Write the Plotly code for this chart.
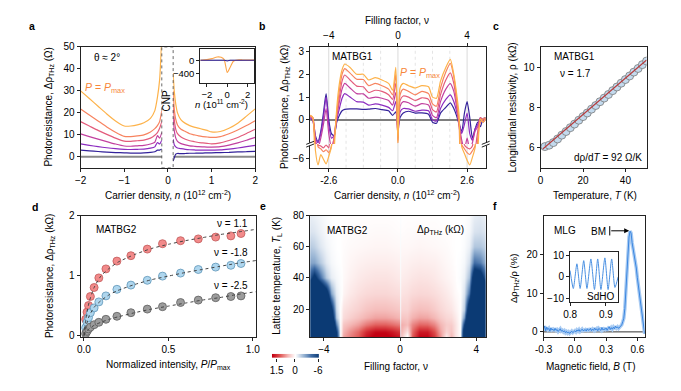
import plotly.graph_objects as go

W, H = 681, 391
FONT = "Liberation Sans, Arial, sans-serif"


def PX(p):
    return p / W


def PY(p):
    return 1 - p / H


# ---------------- panel a data ----------------
a_n_left = [-2.0, -1.8, -1.6, -1.4, -1.2, -1.0, -0.85, -0.7, -0.55, -0.4, -0.3, -0.24, -0.19, -0.14]
a_n_right = [0.12, 0.145, 0.18, 0.22, 0.3, 0.4, 0.5, 0.6, 0.7, 0.8, 0.9, 1.0, 1.2, 1.4, 1.6, 1.8, 2.0]
a_left = [
    [30, 26.5, 23, 19.5, 16.3, 14, 14, 14.5, 15.5, 17.5, 21, 27, 35, 55],
    [21.7, 19, 16.3, 13.6, 11.2, 9.3, 9.2, 9.5, 10, 11.3, 12.8, 14.2, 16, 21],
    [16, 14, 12, 10.2, 8.5, 7.1, 7.0, 7.3, 7.6, 8.5, 9.8, 11, 13, 16],
    [10.4, 9.2, 8, 6.9, 5.8, 4.9, 4.8, 5.0, 5.2, 5.8, 6.6, 9.6, 8.5, 11],
    [5.9, 5.2, 4.6, 4.1, 3.7, 3.4, 3.3, 3.4, 3.5, 3.9, 4.5, 6.5, 5.8, 7.5],
    [3.0, 2.7, 2.4, 2.1, 1.9, 1.8, 1.7, 1.7, 1.8, 2.0, 2.3, 3.0, 3.0, 3.5],
]
a_right = [
    [38, 30, 24, 20, 16.8, 15.2, 14.2, 13.5, 13, 12.5, 12, 11.3, 11.5, 13, 15.3, 18.5, 21.8],
    [30, 22, 17, 14.5, 12.5, 11.5, 10.5, 10, 9.5, 9.2, 9, 8.8, 9.2, 10.5, 12.2, 14.2, 16.4],
    [24, 17, 12.5, 10.5, 9, 8, 7.3, 6.9, 6.5, 6.3, 6.1, 5.9, 6.3, 7.4, 8.8, 10.6, 12.5],
    [18, 12, 8.5, 7, 6, 5.4, 5, 4.8, 4.6, 4.5, 4.4, 4.4, 4.6, 5.3, 6.3, 7.5, 8.8],
    [8, 5.5, 4.5, 4, 3.7, 3.4, 3.2, 3.1, 3.0, 3.0, 3.0, 3.0, 3.1, 3.5, 4.0, 4.6, 5.2],
    [-2, -0.5, 1.2, 1.5, 1.4, 1.5, 1.6, 1.6, 1.7, 1.7, 1.8, 1.8, 1.9, 2.0, 2.2, 2.3, 2.5],
]
a_inset_n = [-2.65, -2, -1.5, -1, -0.6, -0.3, 0, 0.3, 0.6, 1.0, 1.5, 2, 2.65]
a_inset_orange = [0, 20, 50, 100, 90, 20, -370, -200, -30, 10, 10, 5, 5]
a_inset_blue = [0, 0, 0, 0, 0, 0, -20, 0, 0, 0, 0, 0, 0]

curve_colors = ['#FDB24A', '#F7835F', '#E35C7C', '#C2409F', '#8C2CC0', '#33229A']

# ---------------- panel b data ----------------
b_n = [-3.3, -3.2, -3.1, -3.0, -2.9, -2.8, -2.7, -2.6, -2.5, -2.4, -2.3, -2.2, -2.1, -2.0,
       -1.8, -1.55, -1.3, -1.1, -0.85, -0.6, -0.35, -0.2, -0.08,
       0.0,
       0.08, 0.2, 0.4, 0.65, 0.9, 1.15, 1.3, 1.45, 1.6, 1.8, 1.97,
       2.1, 2.2, 2.3, 2.4, 2.5, 2.6, 2.7, 2.8, 2.9, 3.0, 3.1, 3.2, 3.3]
b_curves = [
    [0.2, 0.1, -5.2, -6.7, -5.6, -6.1, -6.6, -5.8, -4.8, -1.5, 0.5, 1.6, 2.2, 2.45,
     2.3, 2.0, 2.0, 1.75, 1.85, 1.75, 1.6, 1.3, 2.3,
     -1.0,
     1.4, 1.6, 1.5, 1.4, 1.5, 1.45, 1.0, 0.95, 1.7, 2.3, 2.65,
     2.0, 1.2, 0.2, -4.8, -5.5, -6.2, -6.7, -5.9, -4.9, -1.5, 0.05, -0.1, 0.05],
    [0.2, 0.1, -1.5, -4.8, -5.0, -5.3, -5.1, -5.4, -4.7, -1.0, 0.3, 1.3, 2.0, 2.25,
     2.05, 1.78, 1.77, 1.5, 1.6, 1.5, 1.35, 1.1, 2.0,
     -1.0,
     1.1, 1.35, 1.25, 1.1, 1.25, 1.15, 0.7, 0.6, 1.4, 2.1, 2.48,
     1.9, 1.0, -0.2, -4.6, -5.0, -5.4, -5.6, -5.2, -4.7, -0.8, -0.1, 0.05, 0.1],
    [0.15, 0.1, -1.0, -4.6, -4.7, -4.9, -4.6, -4.9, -1.5, -0.8, 0.2, 1.0, 1.7, 1.97,
     1.75, 1.48, 1.45, 1.2, 1.3, 1.25, 1.1, 0.9, 1.6,
     -0.9,
     0.85, 1.05, 1.0, 0.85, 0.97, 0.9, 0.45, 0.35, 1.1, 1.75, 2.06,
     1.6, 0.8, -0.3, -1.2, -4.6, -4.9, -5.0, -4.7, -1.5, -0.5, 0.1, 0.0, 0.05],
    [0.15, 0.0, -0.9, -1.2, -0.8, -0.2, 0.5, -0.6, -1.2, -0.8, 0.1, 0.8, 1.35, 1.6,
     1.4, 1.15, 1.14, 0.95, 1.0, 0.95, 0.85, 0.65, 1.2,
     -0.8,
     0.6, 0.8, 0.75, 0.6, 0.71, 0.65, 0.2, 0.1, 0.8, 1.35, 1.59,
     1.25, 0.6, -0.2, -0.9, -1.3, -0.8, -1.3, -1.0, -0.5, -0.3, 0.05, -0.1, 0.05],
    [0.1, 0.0, -0.8, -1.0, -0.6, 0.1, 1.0, -0.2, -0.8, -0.7, 0.0, 0.5, 0.95, 1.15,
     1.0, 0.8, 0.78, 0.65, 0.7, 0.65, 0.55, 0.4, 0.8,
     -0.6,
     0.35, 0.5, 0.48, 0.38, 0.43, 0.4, 0.0, -0.05, 0.5, 0.9, 1.1,
     0.8, 0.4, -0.1, -0.6, -0.2, 0.3, -0.6, -0.9, -0.4, -0.2, 0.1, -0.05, 0.05],
    [0.05, 0.0, -0.7, -0.95, -0.5, 0.3, 1.15, 0.0, -0.6, -0.7, -0.1, 0.2, 0.4, 0.46,
     0.48, 0.48, 0.46, 0.47, 0.5, 0.45, 0.4, 0.2, 0.35,
     -0.35,
     0.1, 0.3, 0.38, 0.3, 0.31, 0.25, -0.1, -0.15, 0.3, 0.55, 0.75,
     0.5, 0.2, -0.2, -0.5, 0.3, 0.8, 0.1, -0.8, -0.4, -0.1, -0.3, 0.05, 0.1],
]
b_nu_per_n = 4 / 2.6
b_nu_lines = [-4, -3, -2, -1, 0, 1, 2, 3, 4]

# ---------------- panel c data ----------------
c_T = [2, 4, 6, 8, 10, 12, 14, 16, 18, 20, 22, 24, 26, 28, 30, 32, 34, 36, 38, 40, 42, 44, 46, 48, 50]
c_rho = [6.05, 6.12, 6.25, 6.43, 6.62, 6.80, 6.99, 7.17, 7.36, 7.54, 7.72, 7.91, 8.09,
         8.28, 8.46, 8.64, 8.83, 9.01, 9.20, 9.38, 9.56, 9.75, 9.93, 10.12, 10.30]
c_fit_T = [1, 50]
c_fit_rho = [5.93, 10.35]

# ---------------- panel d data ----------------
d_P = [0.01, 0.018, 0.027, 0.038, 0.06, 0.088, 0.13, 0.195, 0.278, 0.375, 0.465, 0.572, 0.677, 0.78, 0.87, 0.93]
d_red = [0.27, 0.39, 0.50, 0.65, 0.80, 0.96, 1.11, 1.24, 1.33, 1.44, 1.53, 1.58, 1.61, 1.64, 1.66, 1.70]
d_blue = [0.13, 0.22, 0.30, 0.38, 0.46, 0.56, 0.66, 0.77, 0.84, 0.92, 0.99, 1.04, 1.10, 1.14, 1.17, 1.20]
d_gray = [0.03, 0.07, 0.11, 0.14, 0.18, 0.22, 0.27, 0.32, 0.38, 0.44, 0.48, 0.55, 0.59, 0.63, 0.65, 0.66]
d_fit_P = [0.0, 0.01, 0.03, 0.06, 0.1, 0.15, 0.2, 0.3, 0.4, 0.5, 0.6, 0.7, 0.8, 0.9, 1.02]
d_red_fit = [0.0, 0.26, 0.55, 0.80, 0.99, 1.12, 1.22, 1.35, 1.45, 1.52, 1.58, 1.63, 1.68, 1.72, 1.77]
d_blue_fit = [0.0, 0.13, 0.32, 0.47, 0.58, 0.68, 0.75, 0.85, 0.93, 0.99, 1.05, 1.10, 1.15, 1.20, 1.25]
d_gray_fit = [0.0, 0.05, 0.11, 0.17, 0.22, 0.27, 0.31, 0.38, 0.44, 0.49, 0.54, 0.59, 0.63, 0.68, 0.73]

# ---------------- panel e data ----------------
e_nu = [-4.72, -4.5, -4.2, -3.9, -3.6, -3.35, -3.15, -3.0, -2.6, -2.2, -1.8, -1.3, -0.8, -0.4, -0.07,
        0.0, 0.07, 0.35, 0.65, 1.0, 1.4, 1.8, 2.1, 2.4, 2.7, 2.9, 3.15, 3.35, 3.6, 3.9, 4.2, 4.49]
e_T = [2, 6, 10, 15, 20, 30, 40, 50, 60, 70, 80]
e_z = [
    [-12, -12, -12, -12, -12, -7, 0.0, 0.6, 0.8, 1.0, 1.4, 1.6, 1.6, 1.5, 1.4, -0.6, 0.4, -0.1, 1.0, 1.5, 1.5, 1.2, 0.7, 0.1, 0.5, 0.2, 0.0, -10, -12, -12, -12, -12],
    [-12, -12, -12, -12, -12, -6, 0.0, 0.5, 0.7, 0.9, 1.25, 1.45, 1.45, 1.35, 1.2, -0.5, 0.5, 0.2, 0.9, 1.35, 1.35, 1.05, 0.6, 0.3, 0.4, 0.2, 0.0, -9, -12, -12, -12, -12],
    [-12, -12, -12, -12, -12, -3.5, 0.0, 0.4, 0.5, 0.62, 0.82, 0.95, 0.95, 0.88, 0.8, -0.4, 0.55, 0.45, 0.75, 0.92, 0.9, 0.75, 0.5, 0.35, 0.35, 0.2, 0.0, -6, -12, -12, -12, -12],
    [-12, -12, -12, -12, -9, -1.5, 0.0, 0.25, 0.33, 0.42, 0.52, 0.6, 0.6, 0.56, 0.5, -0.3, 0.4, 0.38, 0.52, 0.6, 0.58, 0.48, 0.36, 0.28, 0.25, 0.15, 0.0, -3, -12, -12, -12, -12],
    [-12, -12, -12, -12, -7, -1.0, 0.0, 0.2, 0.26, 0.32, 0.4, 0.45, 0.45, 0.42, 0.38, -0.2, 0.3, 0.3, 0.4, 0.45, 0.43, 0.36, 0.28, 0.22, 0.18, 0.1, 0.0, -1.5, -9, -12, -12, -12],
    [-12, -12, -11, -8, -2.5, -0.5, -0.1, 0.08, 0.16, 0.22, 0.26, 0.28, 0.28, 0.26, 0.24, -0.15, 0.2, 0.22, 0.26, 0.28, 0.27, 0.24, 0.2, 0.15, 0.1, 0.04, 0.0, -0.8, -4, -12, -12, -9],
    [-5, -7, -4, -1.5, -0.5, -0.2, -0.05, 0.04, 0.1, 0.15, 0.18, 0.2, 0.2, 0.18, 0.15, -0.1, 0.13, 0.15, 0.18, 0.2, 0.19, 0.16, 0.12, 0.08, 0.05, 0.02, -0.1, -0.4, -1.8, -9, -8, -4],
    [-2.5, -2.5, -1.5, -0.6, -0.2, -0.05, 0.0, 0.03, 0.07, 0.1, 0.12, 0.13, 0.13, 0.12, 0.1, -0.1, 0.09, 0.1, 0.12, 0.13, 0.12, 0.11, 0.08, 0.05, 0.03, 0.0, -0.05, -0.2, -0.9, -4, -3.5, -2],
    [-1.5, -1.3, -0.7, -0.3, -0.1, 0.0, 0.0, 0.02, 0.04, 0.05, 0.06, 0.07, 0.07, 0.06, 0.05, -0.1, 0.05, 0.05, 0.06, 0.07, 0.06, 0.05, 0.04, 0.03, 0.01, 0.0, 0.0, -0.1, -0.4, -1.6, -1.6, -1.2],
    [-0.8, -0.7, -0.4, -0.15, -0.05, 0.0, 0.0, 0.01, 0.02, 0.03, 0.03, 0.04, 0.04, 0.03, 0.02, -0.1, 0.02, 0.03, 0.03, 0.04, 0.03, 0.03, 0.02, 0.01, 0.01, 0.0, 0.0, -0.05, -0.2, -0.8, -0.9, -0.7],
    [-0.5, -0.4, -0.25, -0.1, 0.0, 0.0, 0.0, 0.0, 0.01, 0.01, 0.01, 0.01, 0.01, 0.01, 0.0, -0.05, 0.0, 0.01, 0.01, 0.01, 0.01, 0.01, 0.0, 0.0, 0.0, 0.0, 0.0, 0.0, -0.1, -0.5, -0.6, -0.4],
]
e_cbar_ticks = ['1.5', '0', '-6']
e_cbar_vals = [1.5, 0, -6]

# ---------------- panel f data ----------------
f_B = [round(-0.30 + 0.01 * i, 2) for i in range(98)]
f_y = [0.8, 1.5, 0.3, 1.2, 0.6, 0.9, 0.2, 1.0, 0.5, 0.7,
       0.3, 0.9, 0.4, 0.6, 0.1, 0.5, 0.8, 0.2, 0.4, 0.0,
       0.3, -0.2, 0.1, -0.3, 0.0, -0.4, -0.1, 0.2, -0.2, 0.1,
       0.3, 0.0, 0.5, 0.2, 0.6, 0.1, 0.4, 0.7, 0.3, 0.5,
       0.6, 0.2, 0.8, 0.4, 0.5, 0.9, 0.3, 0.7, 0.4, 1.0,
       0.5, 0.8, 0.3, 0.9, 0.6, 0.4, 1.1, 0.5, 0.8, 0.6,
       1.0, 0.4, 0.9, 1.3, 0.6, 1.1, 0.7, 1.2, 0.8, 1.5,
       1.0, 1.3, 0.9, 1.2, 1.4, 1.8, 2.6, 3.5, 6.0, 11.0,
       17.0, 21.5, 24.5, 26.0, 25.5, 23.0, 21.5, 20.0, 18.0, 16.5,
       14.0, 12.0, 10.3, 8.0, 6.0, 3.5, 1.5, -0.5]
f_osc_B = [0.800, 0.809, 0.819, 0.828, 0.838, 0.847, 0.858, 0.868, 0.877, 0.886, 0.897, 0.906, 0.916, 0.925, 0.934]
f_osc_y = [3, -5.5, 6.2, -5.5, 7.7, -5.5, 8.5, -6, 8.5, -6, 9, -6, 8.5, -5, 0]

assert all(len(r) == len(a_n_left) for r in a_left)
assert all(len(r) == len(a_n_right) for r in a_right)
assert all(len(r) == len(b_n) for r in b_curves)
assert len(c_T) == len(c_rho)
assert all(len(r) == len(e_nu) for r in e_z) and len(e_z) == len(e_T)
assert len(f_B) == len(f_y)

CS = [[0.0, '#0B3A74'], [0.2667, '#3F6CA5'], [0.5333, '#9DB8D6'], [0.70, '#DCE5F0'],
      [0.80, '#FFFFFF'], [0.8267, '#FBE3E2'], [0.8667, '#F4B6B4'], [0.9333, '#E05654'], [1.0, '#C20012']]

fig = go.Figure()


def line_tr(x, y, xa, ya, color, width=1.2, shape='spline', dash=None):
    return go.Scatter(x=x, y=y, xaxis=xa, yaxis=ya, mode='lines',
                      line=dict(color=color, width=width, shape=shape, dash=dash,
                                smoothing=0.6 if shape == 'spline' else None),
                      showlegend=False, hoverinfo='skip')


# panel a
for k in range(5, -1, -1):
    fig.add_trace(line_tr(a_n_left + [None] + a_n_right, a_left[k] + [None] + a_right[k],
                          'x', 'y', curve_colors[k]))
fig.add_trace(line_tr(a_inset_n, a_inset_orange, 'x2', 'y2', '#FDA64A', 1.1))
fig.add_trace(line_tr(a_inset_n, a_inset_blue, 'x2', 'y2', '#33229A', 1.1))

# panel b
for k in range(5, -1, -1):
    fig.add_trace(line_tr(b_n, b_curves[k], 'x3', 'y3', curve_colors[k]))
    fig.add_trace(line_tr(b_n, b_curves[k], 'x3', 'y4', curve_colors[k]))
fig.add_trace(go.Scatter(x=[0], y=[0], xaxis='x4', yaxis='y3', mode='markers',
                         marker=dict(opacity=0), showlegend=False, hoverinfo='skip'))

# panel c
fig.add_trace(go.Scatter(x=c_T, y=c_rho, xaxis='x5', yaxis='y5', mode='markers',
                         marker=dict(size=8, color='#C3DAEE', line=dict(color='#7A7A7A', width=0.8)),
                         showlegend=False, hoverinfo='skip'))
fig.add_trace(line_tr(c_fit_T, c_fit_rho, 'x5', 'y5', '#B83A3A', 1.1, 'linear'))

# panel d
for ys, fill, edge in [(d_red, '#F28A8A', '#C25A5A'), (d_blue, '#AED6EE', '#5F95B8'), (d_gray, '#9C9C9C', '#606060')]:
    fig.add_trace(go.Scatter(x=d_P, y=ys, xaxis='x6', yaxis='y6', mode='markers',
                             marker=dict(size=8, color=fill, line=dict(color=edge, width=0.8)),
                             showlegend=False, hoverinfo='skip'))
for ys in [d_red_fit, d_blue_fit, d_gray_fit]:
    fig.add_trace(line_tr(d_fit_P, ys, 'x6', 'y6', '#444444', 1.0, 'spline', 'dot'))

# panel e
fig.add_trace(go.Heatmap(x=e_nu, y=e_T, z=e_z, xaxis='x7', yaxis='y7', colorscale=CS,
                         zmin=-6, zmax=1.5, zsmooth='best', showscale=False, hoverinfo='skip'))
fig.add_trace(go.Heatmap(x=[0, 0.49, 1], y=[0, 1], z=[e_cbar_vals, e_cbar_vals], xaxis='x8', yaxis='y8',
                         colorscale=CS, zmin=-6, zmax=1.5, zsmooth='best', showscale=False,
                         hoverinfo='skip'))

# panel f
fig.add_trace(line_tr(f_B, f_y, 'x9', 'y9', '#A9CBF2', 3.5, 'linear'))
fig.add_trace(line_tr(f_B, f_y, 'x9', 'y9', '#3A86E0', 1.0, 'linear'))
fig.add_trace(line_tr(f_osc_B, f_osc_y, 'x10', 'y10', '#4A90E2', 1.0, 'spline'))

LC = '#222222'


def axd(dom, rng, anchor, tickvals=None, ticktext=None, side=None, mirror=True, ticks='outside',
        showticklabels=True, ticklen=3, overlaying=None, showline=True, tickformat=None, size=10):
    d = dict(range=rng, anchor=anchor, showline=showline, linecolor=LC, linewidth=1, mirror=mirror,
             ticks=ticks, ticklen=ticklen, tickwidth=1, tickcolor=LC, showgrid=False, zeroline=False,
             showticklabels=showticklabels, fixedrange=True,
             tickfont=dict(size=size, color='black', family=FONT))
    if dom is not None:
        d['domain'] = dom
    if tickvals is not None:
        d['tickvals'] = tickvals
    if ticktext is not None:
        d['ticktext'] = ticktext
    if side:
        d['side'] = side
    if overlaying:
        d['overlaying'] = overlaying
    if tickformat:
        d['tickformat'] = tickformat
    return d


lay = {}
# a
lay['xaxis'] = axd([PX(73), PX(251)], [-2, 2], 'y', [-2, -1, 0, 1, 2])
lay['yaxis'] = axd([PY(166), PY(42)], [-5, 50], 'x', [0, 10, 20, 30, 40, 50])
lay['xaxis2'] = axd([PX(195), PX(250)], [-2.65, 2.65], 'y2', [-2, 0, 2], size=9.5)
lay['yaxis2'] = axd([PY(79), PY(44)], [-685, 344], 'x2', [-400, 0], size=9.5)
# b
lay['xaxis3'] = axd([PX(307), PX(486)], [-3.3, 3.3], 'y4', [-2.6, 0, 2.6], ['-2.6', '0.0', '2.6'], mirror=False)
lay['yaxis3'] = axd([PY(141.7), PY(42)], [-1.06, 3.2], 'x3', [0, 1, 2, 3])
lay['yaxis4'] = axd([PY(166), PY(141.7)], [-7.0, -4.5], 'x3', [-6])
lay['xaxis4'] = axd(None, [-3.3 * b_nu_per_n, 3.3 * b_nu_per_n], 'y3', [-4, 0, 4], side='top',
                    overlaying='x3', mirror=False)
# c
lay['xaxis5'] = axd([PX(542), PX(650)], [0, 50], 'y5', [0, 20, 40])
lay['yaxis5'] = axd([PY(166), PY(42)], [5, 11], 'x5', [6, 8, 10])
# d
lay['xaxis6'] = axd([PX(73), PX(252)], [-0.02, 1.02], 'y6', [0, 0.5, 1], ['0.0', '0.5', '1.0'])
lay['yaxis6'] = axd([PY(340), PY(215)], [-0.03, 2.0], 'x6', [0, 1, 2])
# e
lay['xaxis7'] = axd([PX(307), PX(486)], [-4.72, 4.49], 'y7', [-4, 0, 4])
lay['yaxis7'] = axd([PY(340), PY(215)], [2, 80], 'x7', [20, 40, 60, 80])
lay['xaxis8'] = axd([PX(268), PX(316)], [0, 1], 'y8', [0.1, 0.49, 0.98], e_cbar_ticks,
                    mirror=False, showline=False)
lay['yaxis8'] = dict(domain=[PY(361), PY(357)], range=[0, 1], anchor='x8', visible=False, fixedrange=True)
# f
lay['xaxis9'] = axd([PX(545), PX(648)], [-0.3, 0.67], 'y9', [-0.3, 0, 0.3, 0.6], ['-0.3', '0.0', '0.3', '0.6'])
lay['yaxis9'] = axd([PY(340), PY(216)], [-1.4, 29.8], 'x9', [0, 10, 20, 30])
lay['xaxis10'] = axd([PX(572), PX(621)], [0.8, 0.934], 'y10', [0.8, 0.9], ['0.8', '0.9'])
lay['yaxis10'] = axd([PY(304), PY(252)], [-12, 12], 'x10', [-10, 0, 10])

shapes = []
# panel a zero line and CNP box
shapes.append(dict(type='line', xref='x', yref='y', x0=-2, x1=2, y0=0, y1=0,
                   line=dict(color='#8A8A8A', width=2), layer='below'))
shapes.append(dict(type='rect', xref='x', yref='y', x0=-0.14, x1=0.12, y0=-5, y1=50,
                   line=dict(color='#444444', width=0.8, dash='dot'), fillcolor='white', layer='above'))
# panel a inset zero line
shapes.append(dict(type='line', xref='x2', yref='y2', x0=-2.65, x1=2.65, y0=0, y1=0,
                   line=dict(color='#9A9A9A', width=1), layer='below'))
# panel b grid lines
for nu in b_nu_lines:
    solid = nu in (-4, 0, 4)
    shapes.append(dict(type='line', xref='x3', yref='paper', x0=nu / b_nu_per_n, x1=nu / b_nu_per_n,
                       y0=PY(166), y1=PY(42), layer='below',
                       line=dict(color='#DADADA' if solid else '#E4E4E4', width=1,
                                 dash=None if solid else 'dot')))
shapes.append(dict(type='line', xref='x3', yref='y3', x0=-3.3, x1=3.3, y0=0, y1=0,
                   line=dict(color='#7E7E7E', width=2), layer='below'))
# b axis break marks
for xp in (307, 486):
    shapes.append(dict(type='rect', xref='paper', yref='paper', x0=PX(xp - 4), x1=PX(xp + 4),
                       y0=PY(143.2), y1=PY(140.4), fillcolor='white', line=dict(width=0), layer='above'))
    for yp in (140.4, 143.2):
        shapes.append(dict(type='line', xref='paper', yref='paper', x0=PX(xp - 4), x1=PX(xp + 4),
                           y0=PY(yp + 1.6), y1=PY(yp - 1.6), line=dict(color=LC, width=1), layer='above'))
# f zero line and BM tail bar
shapes.append(dict(type='line', xref='x9', yref='y9', x0=-0.3, x1=0.67, y0=0, y1=0,
                   line=dict(color='#333333', width=1), layer='below'))
shapes.append(dict(type='line', xref='x9', yref='y9', x0=0.335, x1=0.335, y0=24.9, y1=27.3,
                   line=dict(color='black', width=1)))

anns = []


def ann(text, x, y, size=10, angle=0, xanchor='center', yanchor='middle', color='black'):
    anns.append(dict(text=text, x=PX(x), y=PY(y), xref='paper', yref='paper', showarrow=False,
                     xanchor=xanchor, yanchor=yanchor, textangle=angle,
                     font=dict(size=size, color=color, family=FONT)))


DR = 'Δρ<sub>THz</sub>'
# panel letters
for t, x, y in [('a', 23, 21), ('b', 258, 21), ('c', 496, 21), ('d', 27, 206), ('e', 259, 205), ('f', 495, 205)]:
    ann('<b>%s</b>' % t, x, y, 10.5)
# axis titles
ann('Photoresistance, %s (Ω)' % DR, 41, 104, 10, -90)
ann('Carrier density, <i>n</i> (10<sup>12</sup> cm<sup>-2</sup>)', 162, 194)
ann('Filling factor, ν', 396, 15)
ann('Carrier density, <i>n</i> (10<sup>12</sup> cm<sup>-2</sup>)', 396, 194)
ann('Photoresistance, %s (kΩ)' % DR, 282, 104, 10, -90)
ann('Longitudinal resistivity, ρ (kΩ)', 513, 104, 10, -90)
ann('Temperature, <i>T</i> (K)', 597, 194)
ann('Photoresistance, %s (kΩ)' % DR, 42, 277, 10, -90)
ann('Normalized intensity, <i>P</i>/<i>P</i><sub>max</sub>', 163, 368)
ann('Lattice temperature, <i>T</i><sub>L</sub> (K)', 273, 277, 10, -90)
ann('Filling factor, ν', 395, 370)
ann('%s/ρ (%%)' % DR, 515, 280, 9.5, -90)
ann('Magnetic field, <i>B</i> (T)', 593, 370)
# panel texts
ORANGE = '#F7873A'
ann('θ ≈ 2°', 100, 53)
ann('<i>P</i> = <i>P</i><sub>max</sub>', 98, 84, 10.5, color=ORANGE)
ann('CNP', 161, 97, 10, -90)
ann('<i>n</i> (10<sup>11</sup> cm<sup>-2</sup>)', 217, 100.5, 9.5)
ann('MATBG1', 350, 52)
ann('<i>P</i> = <i>P</i><sub>max</sub>', 419, 69, 10.5, color=ORANGE)
ann('MATBG1', 577, 52)
ann('ν = 1.7', 560, 69, xanchor='left')
ann('dρ/d<i>T</i> = 92 Ω/K', 611, 155)
ann('MATBG2', 110, 229)
ann('ν = 1.1', 246, 223, xanchor='right')
ann('ν = -1.8', 246, 253, xanchor='right')
ann('ν = -2.5', 246, 287, xanchor='right')
ann('MATBG2', 345, 230)
ann('%s (kΩ)' % DR, 440, 230)
ann('MLG', 567, 230)
ann('BM', 611, 231, xanchor='right')
ann('SdHO', 603, 298)
# BM arrow
anns.append(dict(x=0.522, y=26.1, ax=0.335, ay=26.1, xref='x9', yref='y9', axref='x9', ayref='y9',
                 text='', showarrow=True, arrowhead=2, arrowsize=1, arrowwidth=1, arrowcolor='black'))

fig.update_layout(**lay)
fig.update_layout(width=W, height=H, margin=dict(l=0, r=0, t=0, b=0), paper_bgcolor='white',
                  plot_bgcolor='white', shapes=shapes, annotations=anns, showlegend=False,
                  hovermode=False, font=dict(family=FONT, size=10, color='black'))

fig.write_html("out.html", config={'displayModeBar': False, 'staticPlot': True},
               post_script="document.body.style.margin='0';document.body.style.overflow='hidden';")
